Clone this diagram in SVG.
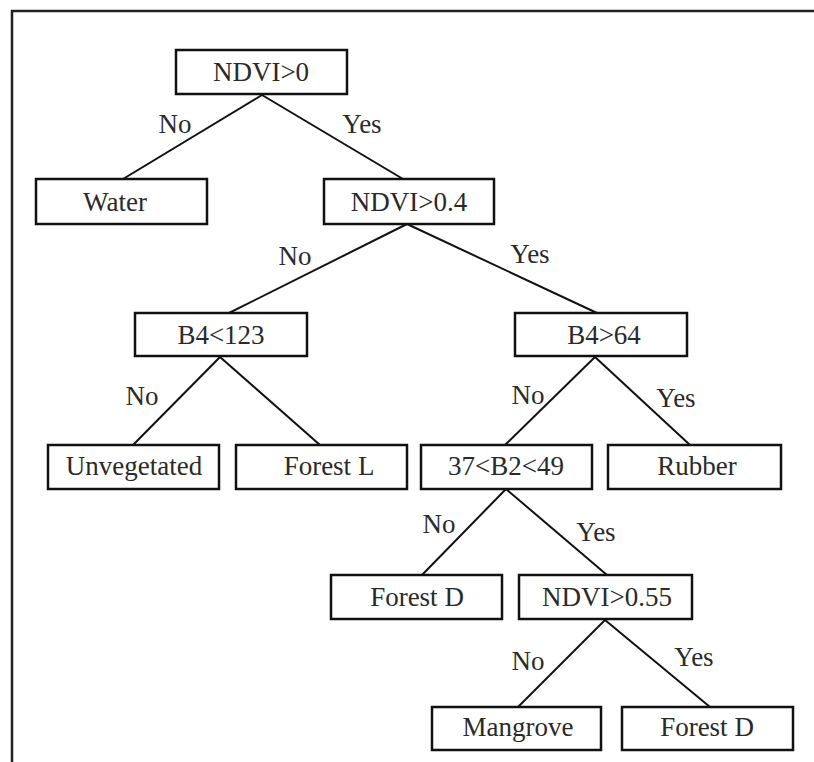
<svg xmlns="http://www.w3.org/2000/svg" width="814" height="762" viewBox="0 0 814 762">
<style>
.box{fill:#fff;stroke:#111;stroke-width:2.5}
.t{font-family:"Liberation Serif","Times New Roman",serif;font-size:27px;fill:#2a2a2a;text-anchor:middle}
.e{stroke:#111;stroke-width:2;fill:none}
</style>
<rect width="814" height="762" fill="#fff"/>
<path d="M12 762 V11 H814" fill="none" stroke="#222" stroke-width="2.5"/>
<g id="connectors">
<line class="e" x1="262" y1="95" x2="123" y2="179"/>
<line class="e" x1="262" y1="95" x2="403" y2="179"/>
<line class="e" x1="407" y1="224" x2="229" y2="313"/>
<line class="e" x1="407" y1="224" x2="597" y2="313"/>
<line class="e" x1="220" y1="357" x2="133" y2="445"/>
<line class="e" x1="220" y1="357" x2="320" y2="445"/>
<line class="e" x1="595" y1="357" x2="505" y2="445"/>
<line class="e" x1="595" y1="357" x2="690" y2="445"/>
<line class="e" x1="506" y1="489" x2="422" y2="575"/>
<line class="e" x1="506" y1="489" x2="607" y2="575"/>
<line class="e" x1="605" y1="620" x2="518" y2="707"/>
<line class="e" x1="605" y1="620" x2="710" y2="707"/>
<text class="t" x="175" y="133">No</text>
<text class="t" x="362" y="133">Yes</text>
<text class="t" x="295" y="265">No</text>
<text class="t" x="530" y="263">Yes</text>
<text class="t" x="142" y="405">No</text>
<text class="t" x="528" y="404">No</text>
<text class="t" x="676" y="407">Yes</text>
<text class="t" x="439" y="533">No</text>
<text class="t" x="596" y="541">Yes</text>
<text class="t" x="528" y="670">No</text>
<text class="t" x="694" y="666">Yes</text>
</g>
<g id="n-ndvi0"><rect class="box" x="176" y="50" width="171" height="44"/><text class="t" x="261" y="81">NDVI&gt;0</text></g>
<g id="n-water"><rect class="box" x="36" y="179" width="171" height="45"/><text class="t" x="115" y="211">Water</text></g>
<g id="n-ndvi04"><rect class="box" x="324" y="179" width="170" height="45"/><text class="t" x="409" y="211">NDVI&gt;0.4</text></g>
<g id="n-b4lt123"><rect class="box" x="135" y="313" width="172" height="43"/><text class="t" x="221" y="344">B4&lt;123</text></g>
<g id="n-b4gt64"><rect class="box" x="515" y="313" width="172" height="43"/><text class="t" x="604" y="344">B4&gt;64</text></g>
<g id="n-unveg"><rect class="box" x="48" y="445" width="171" height="44"/><text class="t" x="134" y="475">Unvegetated</text></g>
<g id="n-forestl"><rect class="box" x="236" y="445" width="171" height="44"/><text class="t" x="329" y="475">Forest L</text></g>
<g id="n-b2"><rect class="box" x="421" y="445" width="171" height="44"/><text class="t" x="506" y="475">37&lt;B2&lt;49</text></g>
<g id="n-rubber"><rect class="box" x="608" y="445" width="173" height="44"/><text class="t" x="697" y="475">Rubber</text></g>
<g id="n-forestd1"><rect class="box" x="331" y="575" width="171" height="44"/><text class="t" x="417" y="606">Forest D</text></g>
<g id="n-ndvi055"><rect class="box" x="519" y="575" width="173" height="44"/><text class="t" x="607" y="606">NDVI&gt;0.55</text></g>
<g id="n-mangrove"><rect class="box" x="432" y="707" width="169" height="43"/><text class="t" x="518" y="736">Mangrove</text></g>
<g id="n-forestd2"><rect class="box" x="622" y="707" width="171" height="43"/><text class="t" x="707" y="736">Forest D</text></g>
</svg>
